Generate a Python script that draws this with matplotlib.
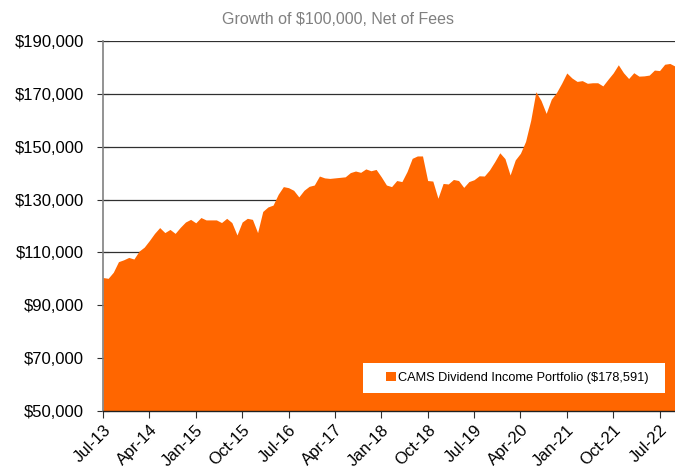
import numpy as np
import matplotlib
matplotlib.use('Agg')
import matplotlib.pyplot as plt
from matplotlib.patches import Patch, Rectangle
from matplotlib.ticker import FuncFormatter

plt.rcParams['font.family'] = ['Liberation Sans', 'DejaVu Sans']

# monthly growth of $100,000 (thousands), Jul-13 .. Oct-22
values = [100.5, 100.2, 102.5, 106.5, 107.2, 108.1, 107.5, 110.5, 112.0, 114.5,
          117.2, 119.4, 117.5, 118.7, 117.2, 119.5, 121.5, 122.5, 121.2, 123.2,
          122.3, 122.3, 122.3, 121.3, 122.9, 121.3, 116.6, 121.5, 122.9, 122.5,
          117.5, 125.5, 127.2, 127.9, 132.0, 134.9, 134.5, 133.5, 131.0, 133.5,
          135.0, 135.5, 138.9, 138.2, 138.0, 138.2, 138.4, 138.6, 140.2, 140.8,
          140.3, 141.6, 140.9, 141.4, 138.6, 135.5, 134.9, 137.2, 136.8, 140.6,
          145.6, 146.5, 146.5, 137.2, 137.0, 130.5, 136.1, 135.9, 137.6, 137.2,
          134.6, 136.8, 137.5, 139.0, 138.9, 141.2, 144.3, 147.7, 145.5, 139.3,
          145.0, 147.5, 152.0, 160.0, 170.8, 167.5, 162.6, 168.0, 170.5, 174.0,
          177.9, 176.0, 174.7, 175.0, 174.0, 174.2, 174.2, 173.0, 175.5, 177.9,
          181.0, 178.0, 175.8, 178.0, 176.7, 176.8, 177.1, 179.0, 178.8, 181.2,
          181.5, 180.5]
tick_labels = ['Jul-13', 'Apr-14', 'Jan-15', 'Oct-15', 'Jul-16', 'Apr-17', 'Jan-18',
               'Oct-18', 'Jul-19', 'Apr-20', 'Jan-21', 'Oct-21', 'Jul-22']
series_name = 'CAMS Dividend Income Portfolio ($178,591)'

x = np.arange(len(values))
y = np.array(values) * 1000

fig = plt.figure(figsize=(6.75, 4.69), dpi=100)
ax = fig.add_axes([0.1526, 0.1237, 0.8474, 0.7889])

ax.fill_between(x, 50000, y, color='#FF6600', lw=0, zorder=2)
ax.set_xlim(0, len(values) - 1)
ax.set_ylim(50000, 190000)
ax.set_yticks(np.arange(50000, 190001, 20000))
ax.yaxis.set_major_formatter(FuncFormatter(lambda v, p: '${:,.0f}'.format(v)))
ax.grid(axis='y', color='#303030', lw=0.9, zorder=1)
ax.set_axisbelow(True)

ax.set_xticks(np.arange(0, len(values), 9))
ax.set_xticklabels(tick_labels, rotation=45, ha='right', rotation_mode='anchor')

for s in ['top', 'right']:
    ax.spines[s].set_visible(False)
ax.spines['left'].set_color('#808080')
ax.spines['left'].set_linewidth(1.2)
ax.spines['bottom'].set_color('#202020')
ax.spines['bottom'].set_linewidth(1.0)
ax.spines['bottom'].set_zorder(3)

ax.tick_params(axis='y', direction='inout', length=9, width=0.8, color='#303030',
               labelsize=12, pad=9)
ax.tick_params(axis='x', direction='out', length=5, width=0.8, color='#303030',
               labelsize=12, pad=3)

fig.suptitle('Growth of $100,000, Net of Fees', x=0.5, y=0.975, fontsize=11.5,
             color='#808080')

# legend box
ax.add_patch(Rectangle((0.4545, 0.0486), 0.528, 0.081, transform=ax.transAxes,
                       facecolor='white', edgecolor='none', zorder=4))
leg = ax.legend([Patch(facecolor='#FF6600', edgecolor='none')], [series_name],
                loc='center left', bbox_to_anchor=(0.4948, 0.0892),
                frameon=False, fontsize=9.2, handlelength=0.75,
                handleheight=0.75, handletextpad=0.15, borderpad=0,
                borderaxespad=0)
leg.set_zorder(5)

fig.savefig('out.png', dpi=100)
